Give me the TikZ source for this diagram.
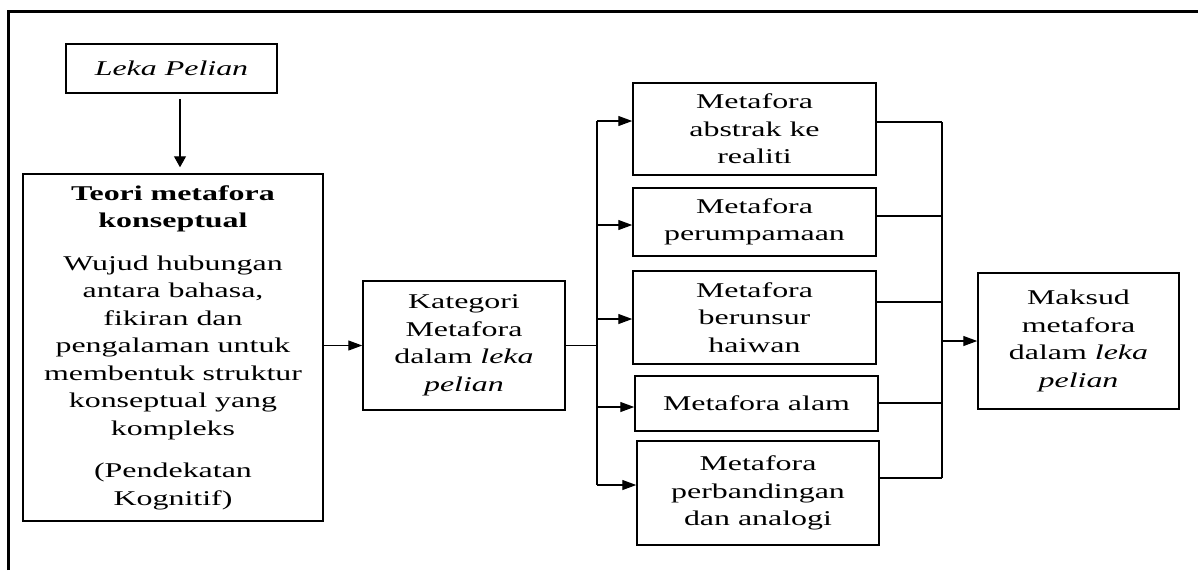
\documentclass[tikz,border=0pt]{standalone}
\usepackage{fontspec}
\setmainfont{Liberation Serif}[FakeStretch=1.52]
\usetikzlibrary{arrows.meta}

\begin{document}
\begin{tikzpicture}[x=0.5pt,y=-0.5pt,
  box/.style={draw,line width=0.75pt,align=center,inner sep=0pt,
    font=\fontsize{10.5}{13.75}\selectfont},
  link/.style={line width=0.6pt},
  arr/.style={link,-{Triangle[length=7pt,width=5pt]}},
  arrdown/.style={link,-{Triangle[length=5.5pt,width=6pt]}}]
\useasboundingbox (0,0) rectangle (1198,570);

% Frame
\draw[line width=1.5pt] (8.5,570) -- (8.5,11.5) -- (1198,11.5);

% Source and theory
\node[box,minimum width=105.5pt,minimum height=24.5pt] (leka) at (171.5,68.5) {\textit{Leka Pelian}};
\node[box,minimum width=150pt,minimum height=173.5pt] (teori) at (173,347.5)
  {\textbf{Teori metafora}\\ \textbf{konseptual}\\[7.5pt]
   Wujud hubungan\\ antara bahasa,\\ fikiran dan\\ pengalaman untuk\\
   membentuk struktur\\ konseptual yang\\ kompleks\\[7.5pt]
   (Pendekatan\\ Kognitif)};

% Categories
\node[box,minimum width=101pt,minimum height=64.5pt] (kat) at (464,345.5)
  {Kategori\\ Metafora\\ dalam \textit{leka}\\ \textit{pelian}};
\node[box,minimum width=121.5pt,minimum height=46pt] (m1) at (754.5,129) {Metafora\\ abstrak ke\\ realiti};
\node[box,minimum width=121.5pt,minimum height=34pt] (m2) at (754.5,222) {Metafora\\ perumpamaan};
\node[box,minimum width=121.5pt,minimum height=46.5pt] (m3) at (754.5,317.5) {Metafora\\ berunsur\\ haiwan};
\node[box,minimum width=121.5pt,minimum height=27.5pt] (m4) at (756.5,403.5) {Metafora alam};
\node[box,minimum width=121pt,minimum height=52pt] (m5) at (758,493) {Metafora\\ perbandingan\\ dan analogi};

% Meaning
\node[box,minimum width=100.5pt,minimum height=68pt] (maksud) at (1078.5,341)
  {Maksud\\ metafora\\ dalam \textit{leka}\\ \textit{pelian}};

% Arrows
\draw[arrdown] ([xshift=4.25pt,yshift=-2.5pt]leka.south) -- ([xshift=4.25pt,yshift=3pt]leka.south |- teori.north);
\draw[arr] (teori.east |- kat.west) -- (kat.west);

% Fan out and back in
\foreach \n/\yin/\yout in {m1/121/122,m2/225/216,m3/319/302,m4/407/403,m5/485/478}{
  \coordinate (\n-in) at (597,\yin);
  \coordinate (\n-out) at (942,\yout);
  \draw[arr] (\n-in) -- (\n-in -| \n.west);
  \draw[link] (\n.east |- \n-out) -- (\n-out);
}
\draw[link] (m1-in) -- (m5-in);
\draw[link] (m1-out) -- (m5-out);
\draw[link] (kat.east) -- (kat.east -| m1-in);
\draw[arr] (maksud.west -| m1-out) -- (maksud.west);

\end{tikzpicture}
\end{document}
